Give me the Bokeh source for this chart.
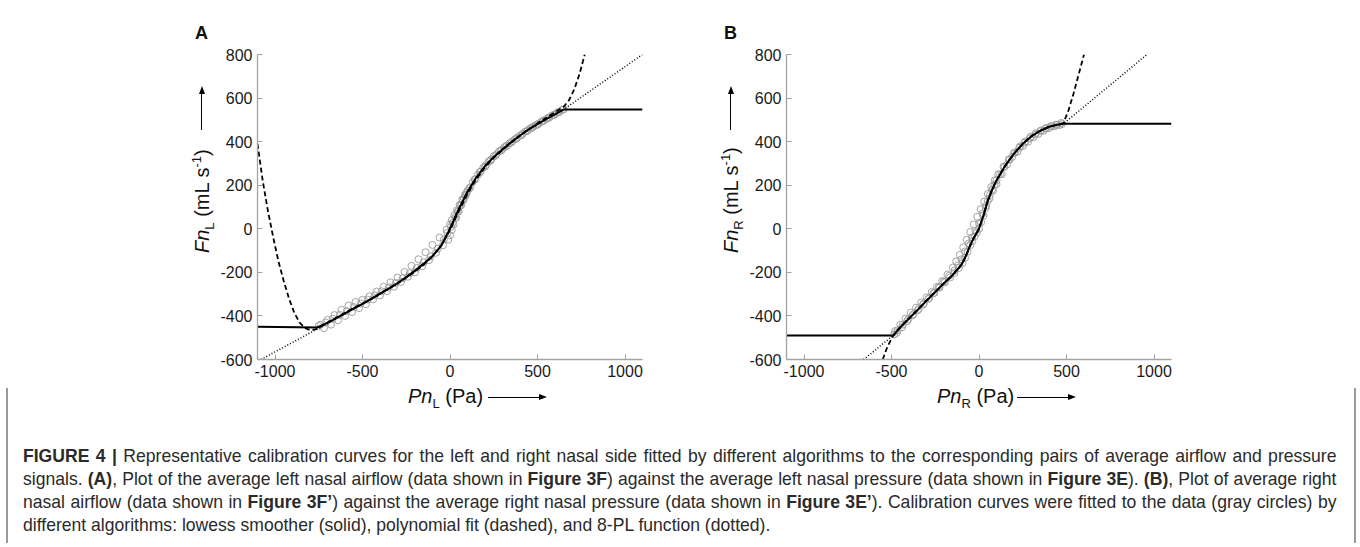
import numpy as np
from bokeh.plotting import figure
from bokeh.models import FixedTicker, Div, Range1d
from bokeh.layouts import row, column
from bokeh.embed import file_html
from bokeh.resources import INLINE

# ---------------- axis ticks ----------------
X_TICKS = [-1000, -500, 0, 500, 1000]
X_TICK_LABELS = ["-1000", "-500", "0", "500", "1000"]
Y_TICKS = [-600, -400, -200, 0, 200, 400, 600, 800]
Y_TICK_LABELS = ["-600", "-400", "-200", "0", "200", "400", "600", "800"]

# ---------------- Panel A (left nasal side) ----------------
# gray circles: averaged data, read as three branches of the band
A_data_up_x = [-740, -700, -660, -620, -580, -540, -500, -460, -420, -380, -340, -300, -260, -220,
               -180, -140, -100, -60, -20, 0, 10, 25, 40, 55, 70, 85, 100, 130, 160, 190, 220, 250,
               280, 310, 340, 370, 400, 430, 460, 490, 520, 550, 580, 610, 640]
A_data_up_y = [-440, -418, -396, -372, -352, -336, -326, -310, -288, -266, -246, -224, -198, -170,
               -140, -108, -74, -40, -5, 20, 40, 62, 85, 110, 135, 155, 175, 215, 248, 280, 308, 333,
               355, 374, 392, 410, 428, 446, 462, 476, 490, 504, 518, 532, 546]
A_data_mid_x = [-750, -710, -670, -630, -590, -550, -510, -470, -430, -390, -350, -310, -270, -230,
                -190, -150, -110, -70, -35, -15, 5, 15, 30, 45, 60, 75, 90, 115, 145, 175, 205, 235,
                265, 295, 325, 355, 385, 415, 445, 475, 505, 535, 565, 595, 625, 650]
A_data_mid_y = [-446, -430, -413, -395, -378, -359, -343, -325, -306, -287, -269, -249, -227, -204,
                -180, -154, -126, -91, -49, -19, 9, 27, 54, 81, 106, 130, 154, 190, 228, 262, 292, 318,
                341, 362, 382, 401, 419, 436, 453, 468, 482, 496, 510, 523, 536, 548]
A_data_lo_x = [-720, -680, -640, -600, -560, -520, -480, -440, -400, -360, -320, -280, -240, -200,
               -160, -120, -80, -40, -10, 0, 10, 20, 35, 50, 65, 80, 95, 110, 140, 170, 200, 230,
               260, 290, 320, 350, 380, 410, 440, 470, 500, 530, 560, 590, 620]
A_data_lo_y = [-456, -440, -420, -400, -382, -364, -346, -324, -306, -286, -266, -244, -220, -200,
               -172, -144, -110, -76, -50, -30, -5, 20, 50, 80, 110, 140, 165, 185, 225, 260, 285, 312,
               336, 358, 378, 396, 414, 430, 448, 464, 478, 494, 508, 522, 536]

# lowess smoother (solid)
A_low_x = [-1100, -760, -700, -650, -600, -550, -500, -450, -400, -350, -300, -250, -200, -150,
           -100, -50, 0, 50, 100, 150, 200, 250, 300, 350, 400, 450, 500, 550, 600, 650, 1100]
A_low_y = [-450, -453, -432, -410, -388, -365, -345, -322, -298, -275, -250, -222, -192, -160,
           -125, -78, 0, 90, 170, 235, 288, 330, 365, 398, 428, 456, 480, 503, 525, 548, 548]

# polynomial fit (dashed)
A_poly_x = [-1100, -1070, -1040, -1010, -980, -950, -920, -890, -860, -830, -800, -770, -740, -700,
            -650, -600, -550, -500, -450, -400, -350, -300, -250, -200, -150, -100, -50, 0, 50, 100,
            150, 200, 250, 300, 350, 400, 450, 500, 550, 600, 650, 680, 710, 740, 770]
A_poly_y = [390, 220, 80, -40, -150, -240, -320, -385, -430, -455, -465, -462, -450, -430,
            -408, -386, -364, -344, -322, -298, -274, -250, -224, -196, -164, -126, -76, -5, 80, 160,
            228, 282, 326, 362, 396, 428, 458, 484, 510, 535, 560, 590, 640, 710, 800]

# 8-PL function (dotted)
A_pl_x = [-1080, -1000, -900, -800, -760, -700, -650, -600, -550, -500, -450, -400, -350, -300,
          -250, -200, -150, -100, -50, 0, 50, 100, 150, 200, 250, 300, 350, 400, 450, 500, 550,
          600, 650, 750, 850, 950, 1050, 1100]
A_pl_y = [-600, -565, -522, -478, -460, -435, -412, -390, -368, -346, -323, -300, -276, -252,
          -225, -196, -163, -126, -75, 5, 95, 172, 235, 287, 329, 364, 397, 427, 455, 480, 503,
          525, 548, 604, 660, 716, 772, 800]

# ---------------- Panel B (right nasal side) ----------------
B_data_up_x = [-480, -450, -420, -390, -360, -330, -300, -270, -240, -210, -180, -150, -130, -110,
               -90, -70, -50, -30, -10, 10, 30, 50, 70, 90, 110, 140, 170, 200, 230, 260, 290, 320,
               350, 380, 410, 440, 470]
B_data_up_y = [-470, -440, -412, -385, -362, -338, -315, -290, -266, -240, -210, -178, -150, -120,
               -85, -50, -15, 20, 55, 90, 125, 160, 192, 222, 250, 285, 318, 348, 372, 395, 415, 432,
               448, 460, 470, 478, 486]
B_data_mid_x = [-485, -465, -435, -405, -375, -345, -315, -285, -255, -225, -195, -165, -140, -115,
                -95, -80, -65, -50, -38, -25, -12, 0, 12, 25, 38, 50, 62, 75, 88, 100, 120, 145, 175,
                205, 235, 265, 295, 325, 355, 385, 415, 445, 475]
B_data_mid_y = [-485, -466, -440, -416, -392, -368, -343, -318, -294, -270, -246, -224, -203, -180,
                -158, -133, -105, -75, -56, -35, -17, 0, 30, 60, 95, 128, 155, 180, 202, 222, 250, 284,
                318, 349, 378, 401, 422, 438, 452, 463, 471, 477, 481]
B_data_lo_x = [-470, -440, -410, -380, -350, -320, -290, -260, -230, -200, -170, -140, -120, -100,
               -80, -60, -40, -20, 0, 20, 40, 60, 80, 100, 130, 160, 190, 220, 250, 280, 310, 340,
               370, 400, 430, 460]
B_data_lo_y = [-478, -452, -424, -398, -374, -348, -322, -296, -268, -242, -216, -192, -168, -140,
               -104, -68, -40, -10, 25, 70, 105, 140, 175, 205, 250, 295, 330, 355, 380, 400, 420, 436,
               450, 462, 470, 476]

B_low_x = [-1100, -490, -450, -400, -350, -300, -250, -200, -150, -100, -75, -50, -25, 0, 25, 50,
           75, 100, 150, 200, 250, 300, 350, 400, 450, 482, 1100]
B_low_y = [-490, -490, -452, -412, -372, -330, -290, -250, -212, -165, -125, -75, -35, 0, 60, 128,
           180, 222, 290, 345, 390, 425, 450, 468, 478, 482, 482]

B_poly_x = [-550, -530, -510, -490, -450, -400, -350, -300, -250, -200, -150, -100, -75, -50, -25,
            0, 25, 50, 75, 100, 150, 200, 250, 300, 350, 400, 450, 482, 510, 540, 570, 600]
B_poly_y = [-600, -555, -520, -490, -452, -412, -372, -330, -290, -250, -212, -165, -125, -75, -35,
            0, 60, 128, 180, 222, 290, 345, 390, 425, 450, 468, 478, 485, 540, 620, 710, 800]

B_pl_x = [-660, -600, -550, -490, -450, -400, -350, -300, -250, -200, -150, -100, -75, -50, -25,
          0, 25, 50, 75, 100, 150, 200, 250, 300, 350, 400, 450, 482, 600, 700, 800, 900, 960]
B_pl_y = [-600, -562, -528, -490, -450, -410, -370, -330, -290, -250, -210, -163, -123, -73, -33,
          2, 62, 128, 180, 222, 290, 345, 390, 425, 450, 468, 478, 482, 560, 627, 693, 760, 800]

# ---------------- layout constants (pixels) ----------------
FONT = "Liberation Sans"
PAGE_W, PAGE_H = 1360, 547
ROW_H = 384          # height of the plot row
TOP, FRAME_H = 54, 305
BOTTOM = ROW_H - TOP - FRAME_H
FRAME_W = 385
LAB_W_A, LAB_W_B = 215, 64       # label strips left of each panel
PLOT_W_A, PLOT_W_B = 465, 616
LEFT_BORDER = 42
XR = (-1100, 1100)
YR = (-600, 800)
CSS_FONT = "font-family:'Liberation Sans',Arial,sans-serif; color:#111111;"


def make_panel(width, up, mid, lo, low, poly, pl):
    p = figure(width=width, height=ROW_H, output_backend="svg", toolbar_location=None,
               x_range=Range1d(*XR), y_range=Range1d(*YR),
               min_border_left=LEFT_BORDER, min_border_right=width - LEFT_BORDER - FRAME_W,
               min_border_top=TOP, min_border_bottom=BOTTOM)
    p.outline_line_color = None
    p.xgrid.visible = False
    p.ygrid.visible = False
    for ax, ticks, labels in ((p.xaxis, X_TICKS, X_TICK_LABELS), (p.yaxis, Y_TICKS, Y_TICK_LABELS)):
        ax.ticker = FixedTicker(ticks=ticks)
        ax.major_label_overrides = {t: l for t, l in zip(ticks, labels)}
        ax.minor_tick_line_color = None
        ax.major_tick_in = 5
        ax.major_tick_out = 0
        ax.axis_line_color = "#a3a3a3"
        ax.major_tick_line_color = "#a3a3a3"
        ax.axis_line_width = 1.3
        ax.major_label_text_font = FONT
        ax.major_label_text_font_size = "16px"
        ax.major_label_text_color = "#1a1a1a"
        ax.major_label_standoff = 5
    for xs, ys in (up, mid, lo):
        p.scatter(xs, ys, marker="circle", size=7, fill_color=None,
                  line_color="#9a9a9a", line_width=1.0, line_alpha=0.9)
    p.line(pl[0], pl[1], line_color="black", line_width=1.5, line_dash="1 2")
    p.line(poly[0], poly[1], line_color="black", line_width=1.8, line_dash="5 3")
    p.line(low[0], low[1], line_color="black", line_width=2)
    return p


def label_strip(width, letter, xb, sub):
    """panel letter + rotated y-axis label (read bottom to top) + arrow.
    xb: x of the text baseline inside the strip"""
    letter_html = (f'<div style="position:absolute; left:{xb - 14}px; top:23.8px; font-size:18px; '
                   f'line-height:18px; font-weight:bold; {CSS_FONT}">{letter}</div>')
    ylab = (f'<div style="position:absolute; left:{xb - 16.9}px; top:253px; transform-origin:0 0; '
            f'transform:rotate(-90deg); white-space:nowrap; font-size:20px; line-height:20px; '
            f'{CSS_FONT}"><i>Fn</i><span style="font-size:13px; position:relative; top:5px;">'
            f'{sub}</span>&nbsp;(mL s<span style="font-size:13px; position:relative; top:-8px;">'
            f'-1</span>)</div>')
    ax = xb - 7
    arrow = (f'<div style="position:absolute; left:{ax - 0.65}px; top:93px; width:0; height:37px; '
             f'border-left:1.3px solid #000;"></div>'
             f'<div style="position:absolute; left:{ax - 3.5}px; top:86px; width:0; height:0; '
             f'border-bottom:8px solid #000; border-left:3.5px solid transparent; '
             f'border-right:3.5px solid transparent;"></div>')
    html = (f'<div style="position:relative; width:{width}px; height:{ROW_H}px;">'
            + letter_html + ylab + arrow + "</div>")
    return Div(text=html, width=width, height=ROW_H, margin=0)


pA = make_panel(PLOT_W_A, (A_data_up_x, A_data_up_y), (A_data_mid_x, A_data_mid_y),
                (A_data_lo_x, A_data_lo_y), (A_low_x, A_low_y), (A_poly_x, A_poly_y), (A_pl_x, A_pl_y))
pB = make_panel(PLOT_W_B, (B_data_up_x, B_data_up_y), (B_data_mid_x, B_data_mid_y),
                (B_data_lo_x, B_data_lo_y), (B_low_x, B_low_y), (B_poly_x, B_poly_y), (B_pl_x, B_pl_y))

labA = label_strip(LAB_W_A, "A", 209, "L")
labB = label_strip(LAB_W_B, "B", 58, "R")

# ---------------- x-axis labels and caption (HTML below the plots) ----------------
frame_left_A = LAB_W_A + LEFT_BORDER
frame_left_B = LAB_W_A + PLOT_W_A + LAB_W_B + LEFT_BORDER


def x_label_html(x0, sub):
    txt = (f'<div style="position:absolute; left:{x0}px; top:2px; font-size:20px; line-height:20px; '
           f'white-space:nowrap; {CSS_FONT}"><i>Pn</i><span style="font-size:13px; position:relative; '
           f'top:5px;">{sub}</span>&nbsp;(Pa)</div>')
    a0 = x0 + 80
    arrow = (f'<div style="position:absolute; left:{a0}px; top:13px; width:52px; height:0; '
             f'border-top:1.3px solid #000;"></div>'
             f'<div style="position:absolute; left:{a0 + 51}px; top:10.2px; width:0; height:0; '
             f'border-left:8px solid #000; border-top:3.5px solid transparent; '
             f'border-bottom:3.5px solid transparent;"></div>')
    return txt + arrow


caption_lines = [
    "<b>FIGURE 4 |</b> Representative calibration curves for the left and right nasal side fitted by "
    "different algorithms to the corresponding pairs of average airflow and pressure",
    "signals. <b>(A)</b>, Plot of the average left nasal airflow (data shown in <b>Figure 3F</b>) against "
    "the average left nasal pressure (data shown in <b>Figure 3E</b>). <b>(B)</b>, Plot of average right",
    "nasal airflow (data shown in <b>Figure 3F\u2019</b>) against the average right nasal pressure (data "
    "shown in <b>Figure 3E\u2019</b>). Calibration curves were fitted to the data (gray circles) by",
    "different algorithms: lowess smoother (solid), polynomial fit (dashed), and 8-PL function (dotted).",
]
just = 'style="white-space:nowrap; text-align:justify; text-align-last:justify;"'
plain = 'style="white-space:nowrap;"'
inner = "".join(
    f"<div {just if i < 3 else plain}>{t}</div>" for i, t in enumerate(caption_lines)
)
caption_box = (
    '<div style="position:absolute; left:6px; top:4px; width:1350px; height:155px; '
    'box-sizing:border-box; border-left:2px solid #9a9a9a; border-right:2px solid #9a9a9a; '
    'overflow:hidden; padding-left:15px; padding-top:56px;">'
    '<div style="width:1420px; transform:scaleX(0.925); transform-origin:0 0; '
    "font-family:'Liberation Sans',Arial,sans-serif; font-size:19px; line-height:23px; "
    'color:#2a2a2a;">' + inner + "</div></div>"
)
below_h = PAGE_H - ROW_H
below_html = (
    f'<div style="position:relative; width:{PAGE_W}px; height:{below_h}px;">'
    + x_label_html(frame_left_A + 151, "L")
    + x_label_html(frame_left_B + 151, "R")
    + caption_box + "</div>"
)
below = Div(text=below_html, width=PAGE_W, height=below_h, margin=0)

layout = column(row(labA, pA, labB, pB, spacing=0), below, spacing=0)
open("out.html", "w").write(file_html(layout, INLINE))
